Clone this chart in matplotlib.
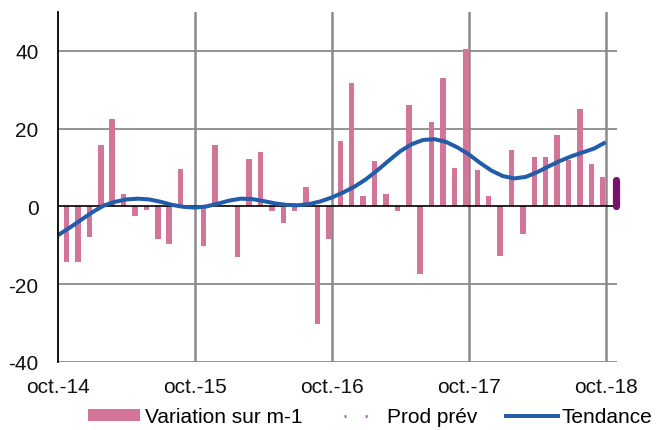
import matplotlib
matplotlib.use('Agg')
import matplotlib.pyplot as plt
from matplotlib.lines import Line2D
from matplotlib.patches import Patch
import numpy as np

plt.rcParams['font.family'] = 'Liberation Sans'
plt.rcParams['axes.unicode_minus'] = False

# monthly change vs previous month, 48 months from nov-14 to oct-18
variation = [
    -14.3, -14.3, -7.8, 15.9, 22.6, 3.1, -2.5, -0.9, -8.5, -9.7, 9.7, 0.0,
    -10.2, 15.7, 0.3, -13.0, 12.3, 14.0, -1.1, -4.3, -1.2, 5.1, -30.3, -8.4,
    16.9, 31.8, 2.8, 11.7, 3.2, -1.2, 26.1, -17.5, 21.8, 33.1, 9.9, 40.4,
    9.3, 2.8, -12.7, 14.5, -7.1, 12.8, 12.6, 18.4, 11.9, 25.1, 11.0, 7.5,
]

# smoothed trend, one value per month from oct-14 to oct-18
tendance = [
    -7.4, -5.5, -3.5, -1.5, 0.2, 1.2, 1.8, 2.0, 1.8, 1.2, 0.4, -0.1,
    -0.3, 0.0, 0.7, 1.5, 2.0, 1.9, 1.4, 0.8, 0.4, 0.3, 0.6, 1.3,
    2.3, 3.6, 5.1, 7.0, 9.3, 11.8, 14.2, 16.0, 17.1, 17.3, 16.6, 15.2,
    13.4, 11.2, 9.2, 7.8, 7.2, 7.6, 8.8, 10.3, 11.7, 12.9, 13.9, 14.9,
    16.5,
]

# forecast for nov-18
prod_prev = 6.8

tick_labels = ['oct.-14', 'oct.-15', 'oct.-16', 'oct.-17', 'oct.-18']

PINK = '#D27598'
BLUE = '#235DA9'
PURPLE = '#7A0F6E'
GRID = '#8A8A8A'

fig = plt.figure(figsize=(6.57, 4.31), dpi=100)
ax = fig.add_axes([58 / 657, 1 - 363 / 431, (617 - 58) / 657, (363 - 13) / 431])

bar_x = np.arange(len(variation)) + 0.75
ax.bar(bar_x, variation, width=0.48, color=PINK, zorder=2)

trend_x = np.arange(len(tendance))
ax.plot(trend_x, tendance, color=BLUE, lw=2.9, zorder=4, solid_capstyle='butt')

## forecast drawn as a rounded stub sitting on the right edge
ax.plot([48.95, 48.95], [0, prod_prev], color=PURPLE, lw=5.2,
        solid_capstyle='round', clip_on=False, zorder=5)

ax.axhline(0, color='black', lw=1.2, zorder=3)

ax.set_xlim(0, 49)
ax.set_ylim(-40, 50)
ax.set_yticks([-40, -20, 0, 20, 40])
ax.set_xticks([0, 12, 24, 36, 48])
ax.set_xticklabels(tick_labels)

for y in [-40, -20, 20, 40]:
    ax.axhline(y, color=GRID, lw=1.3, zorder=1)
for x in [12, 24, 36, 48]:
    ax.axvline(x, color=GRID, lw=1.8, zorder=1)

for side in ['top', 'right', 'bottom']:
    ax.spines[side].set_visible(False)
ax.spines['left'].set_color('black')
ax.spines['left'].set_linewidth(1.3)
ax.spines['left'].set_zorder(6)

ax.tick_params(axis='both', length=0, labelsize=15, colors='#111111')
ax.tick_params(axis='y', pad=14)
ax.tick_params(axis='x', pad=11)

handles = [
    Patch(facecolor=PINK, edgecolor='none'),
    Line2D([], [], color='#B455A4', lw=2, linestyle=(2.9, (0.7, 6.9))),
    Line2D([], [], color=BLUE, lw=2.9),
]
fig.legend(handles, ['Variation sur m-1', 'Prod prév', 'Tendance'],
           loc='center', bbox_to_anchor=(370.5 / 657, 1 - 418 / 431),
           ncol=3, frameon=False, fontsize=15, handlelength=2.5,
           handleheight=0.55, handletextpad=0.2, columnspacing=1.37,
           borderpad=0, borderaxespad=0)

fig.savefig('out.png', dpi=100)
plt.close(fig)
